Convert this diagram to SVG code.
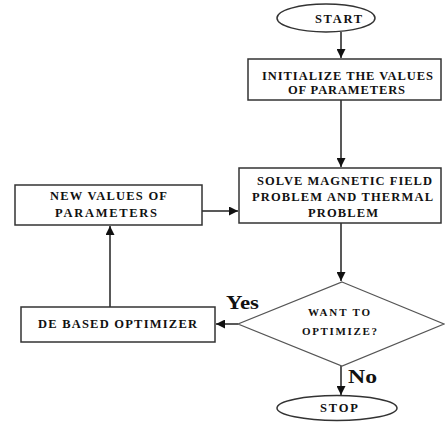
<svg xmlns="http://www.w3.org/2000/svg" width="445" height="422" viewBox="0 0 445 422">
<style>
.shape{fill:#fff;stroke:#333;stroke-width:1.5}
.dia{fill:#fff;stroke:#555;stroke-width:1.2}
.t{font-family:"Liberation Serif","Times New Roman",serif;font-weight:bold;font-size:12.5px;fill:#111;text-anchor:start}
.td{font-size:11px}
.lbl{font-family:"Liberation Serif","Times New Roman",serif;font-weight:bold;font-size:18px;fill:#111}
.c{fill:none;stroke:#222;stroke-width:1.5}
</style>
<defs>
<marker id="ah" viewBox="0 0 10 10" refX="10" refY="5" markerWidth="6" markerHeight="6" orient="auto" markerUnits="strokeWidth">
<path d="M0,0 L10,5 L0,10 z" fill="#111"/>
</marker>
</defs>
<rect width="445" height="422" fill="#fff"/>
<g id="connectors">
<line class="c" x1="341" y1="32" x2="341" y2="58" marker-end="url(#ah)"/>
<line class="c" x1="341" y1="100" x2="341" y2="167" marker-end="url(#ah)"/>
<line class="c" x1="202" y1="211" x2="238" y2="211" marker-end="url(#ah)"/>
<line class="c" x1="341" y1="223" x2="341" y2="281" marker-end="url(#ah)"/>
<line class="c" x1="238" y1="324" x2="216" y2="324" marker-end="url(#ah)"/>
<line class="c" x1="110" y1="307" x2="110" y2="226" marker-end="url(#ah)"/>
<line class="c" x1="341" y1="366" x2="341" y2="395" marker-end="url(#ah)"/>
<text class="lbl" x="226" y="309" textLength="33" lengthAdjust="spacingAndGlyphs">Yes</text>
<text class="lbl" x="348" y="383" textLength="29" lengthAdjust="spacingAndGlyphs">No</text>
</g>
<g id="start">
<ellipse class="shape" cx="326" cy="18" rx="49" ry="14"/>
<text class="t" x="315" y="23" textLength="47" lengthAdjust="spacing">START</text>
</g>
<g id="init">
<rect class="shape" x="248" y="59" width="193" height="41"/>
<text class="t" x="262" y="80" textLength="171" lengthAdjust="spacing">INITIALIZE THE VALUES</text>
<text class="t" x="288" y="94" textLength="117" lengthAdjust="spacing">OF PARAMETERS</text>
</g>
<g id="solve">
<rect class="shape" x="239" y="168" width="202" height="55"/>
<text class="t" x="257" y="185" textLength="175" lengthAdjust="spacing">SOLVE MAGNETIC FIELD</text>
<text class="t" x="252" y="201" textLength="181" lengthAdjust="spacing">PROBLEM AND THERMAL</text>
<text class="t" x="308" y="217" textLength="70" lengthAdjust="spacing">PROBLEM</text>
</g>
<g id="newvalues">
<rect class="shape" x="15" y="185" width="187" height="40"/>
<text class="t" x="50" y="200" textLength="117" lengthAdjust="spacing">NEW VALUES OF</text>
<text class="t" x="55" y="217" textLength="102" lengthAdjust="spacing">PARAMETERS</text>
</g>
<g id="decision">
<polygon class="dia" points="342,282 444,324 342,366 238,324"/>
<text class="t td" x="308" y="316" textLength="62" lengthAdjust="spacing">WANT TO</text>
<text class="t td" x="302" y="335" textLength="75" lengthAdjust="spacing">OPTIMIZE?</text>
</g>
<g id="optimizer">
<rect class="shape" x="21" y="307" width="194" height="35"/>
<text class="t" x="38" y="328" textLength="159" lengthAdjust="spacing">DE BASED OPTIMIZER</text>
</g>
<g id="stop">
<ellipse class="shape" cx="337" cy="408" rx="60" ry="12.5"/>
<text class="t" x="320" y="412" textLength="38" lengthAdjust="spacing">STOP</text>
</g>
</svg>
